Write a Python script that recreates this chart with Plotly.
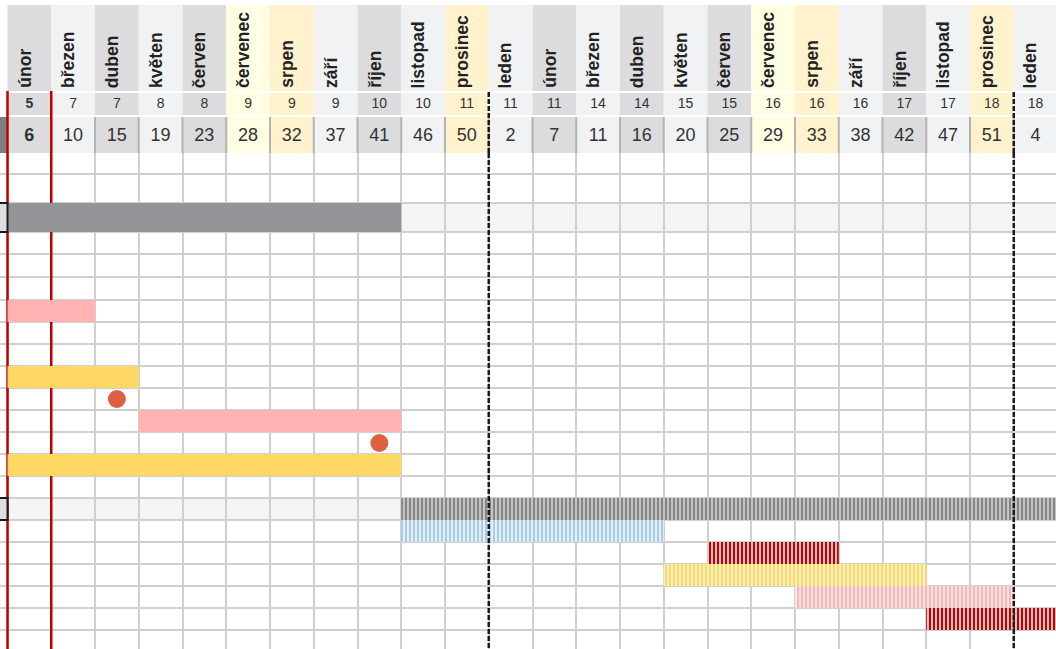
import plotly.graph_objects as go

# ---------------- data ----------------
MONTHS = ["únor", "březen", "duben", "květen", "červen", "červenec", "srpen", "září",
          "říjen", "listopad", "prosinec", "leden",
          "únor", "březen", "duben", "květen", "červen", "červenec", "srpen", "září",
          "říjen", "listopad", "prosinec", "leden"]
ROW2_VALUES = [5, 7, 7, 8, 8, 9, 9, 9, 10, 10, 11, 11, 11, 14, 14, 15, 15, 16, 16, 16, 17, 17, 18, 18]
WEEK_NUMBERS = [6, 10, 15, 19, 23, 28, 32, 37, 41, 46, 50, 2, 7, 11, 16, 20, 25, 29, 33, 38, 42, 47, 51, 4]
CURRENT_MONTH = 0

TASK_ROWS = [2, 6, 9, 11, 13, 15, 16, 17, 18, 19, 20]
TASK_START = [0, 0, 0, 3, 0, 9, 9, 16, 15, 18, 21]
TASK_END = [9, 2, 3, 9, 9, 25, 15, 19, 21, 23, 25]
TASK_KIND = ["summary", "pink", "yellow", "pink", "yellow", "summary", "blue", "red", "yellow", "pink", "red"]
TASK_PLANNED = [False, False, False, False, False, True, True, True, True, True, True]
SUMMARY_ROWS = [2, 15]

MILESTONE_ROWS = [10, 12]
MILESTONE_MONTHS = [2.5, 8.5]

# ---------------- styles / layout ----------------
W, H = 1056, 649
MONTH_PX = 43.75
ORIGIN_PX = 7.5
XR = [-ORIGIN_PX / MONTH_PX, (W - ORIGIN_PX) / MONTH_PX]
HEADER_BOTTOM = 153
BODY_TOP = 153
ROW_HEIGHTS = [21, 29, 29, 22, 23, 23] + [22] * 16
FONT = "Liberation Sans, Arial, sans-serif"

COL_FILL = {"únor": "#dcdcdf", "duben": "#dcdcdf", "červen": "#dcdcdf", "říjen": "#dcdcdf",
            "červenec": "#fffde2", "srpen": "#fff2cd", "prosinec": "#fff2cd"}
COL_DEFAULT = "#f1f2f4"
SOLID = {"summary": "#939598", "pink": "#ffb3b3", "yellow": "#fdd865",
         "blue": "#9fc5e8", "red": "#c00000"}
HATCH = {"summary": ("#858585", "#c4c4c4"), "pink": ("#ffb3b3", "#ffe6e6"),
         "yellow": ("#fdd865", "#fff3c6"), "blue": ("#a9cbec", "#e6f0fa"),
         "red": ("#c00000", "#f3c2c2")}
GRID = "#d0d0d0"

# row geometry
bounds = [BODY_TOP]
for h in ROW_HEIGHTS:
    bounds.append(bounds[-1] + h)
row_center = [(bounds[i] + bounds[i + 1]) / 2 for i in range(len(ROW_HEIGHTS))]

fig = go.Figure()

# ---------------- header ----------------
HDR_ROWS = [(5, 91), (93, 115), (117, 153)]
fills = [COL_FILL.get(m, COL_DEFAULT) for m in MONTHS]
n = len(MONTHS)
for (t, b) in HDR_ROWS:
    fig.add_trace(go.Bar(
        orientation="h", y=[(t + b) / 2] * n, base=list(range(n)), x=[1] * n,
        width=[b - t] * n, marker=dict(color=fills, line=dict(width=0)),
        xaxis="x2", yaxis="y2", hoverinfo="skip", showlegend=False))
# partial preceding column in 3rd header row
fig.add_trace(go.Bar(orientation="h", y=[135], base=[-1], x=[1], width=[36],
                     marker=dict(color="#7f7f7f", line=dict(width=0)),
                     xaxis="x2", yaxis="y2", hoverinfo="skip", showlegend=False))

fig.add_trace(go.Scatter(
    x=[i + 0.5 for i in range(n)], y=[104.5] * n, mode="text",
    text=[f"<b>{v}</b>" if i == CURRENT_MONTH else str(v) for i, v in enumerate(ROW2_VALUES)],
    textfont=dict(family=FONT, size=14, color="#333333"),
    xaxis="x2", yaxis="y2", hoverinfo="skip", showlegend=False))
fig.add_trace(go.Scatter(
    x=[i + 0.5 for i in range(n)], y=[136] * n, mode="text",
    text=[f"<b>{v}</b>" if i == CURRENT_MONTH else str(v) for i, v in enumerate(WEEK_NUMBERS)],
    textfont=dict(family=FONT, size=18, color="#333333"),
    xaxis="x2", yaxis="y2", hoverinfo="skip", showlegend=False))

annotations = []
for i, m in enumerate(MONTHS):
    annotations.append(dict(
        text=m, x=i + 0.38, y=90, xref="x2", yref="y2", textangle=-90,
        xanchor="center", yanchor="bottom", showarrow=False,
        font=dict(family=FONT, size=17.5, color="#222222", weight="bold")))

shapes = []
# separators in 3rd header row
for i in range(1, n):
    shapes.append(dict(type="line", xref="x2", yref="y2", x0=i, x1=i, y0=117, y1=153,
                       line=dict(color="#b3b3b3", width=2), layer="above"))

# ---------------- body ----------------
# summary row backgrounds + preceding-column cells
for r in SUMMARY_ROWS:
    shapes.append(dict(type="rect", xref="x", yref="y", x0=0, x1=XR[1] + 1,
                       y0=bounds[r], y1=bounds[r + 1], fillcolor="#f5f5f5",
                       line=dict(width=0), layer="below"))
    shapes.append(dict(type="rect", xref="x", yref="y", x0=-1, x1=0,
                       y0=bounds[r], y1=bounds[r + 1], fillcolor="#dedede",
                       line=dict(color="#1a1a1a", width=2), layer="above"))

for r, s, e, k, planned in zip(TASK_ROWS, TASK_START, TASK_END, TASK_KIND, TASK_PLANNED):
    if planned:
        fg, bg = HATCH[k]
        marker = dict(color=bg, line=dict(width=0),
                      pattern=dict(shape="|", fgcolor=fg, bgcolor=bg, size=4,
                                   solidity=0.5, fillmode="replace"))
    else:
        marker = dict(color=SOLID[k], line=dict(width=0))
    fig.add_trace(go.Bar(orientation="h", y=[row_center[r]], base=[s], x=[e - s],
                         width=[ROW_HEIGHTS[r]], marker=marker,
                         xaxis="x", yaxis="y", hoverinfo="skip", showlegend=False))

fig.add_trace(go.Scatter(
    x=MILESTONE_MONTHS, y=[row_center[r] for r in MILESTONE_ROWS], mode="markers",
    marker=dict(symbol="circle", size=18, color="#df6040", line=dict(width=0)),
    xaxis="x", yaxis="y", hoverinfo="skip", showlegend=False))

# current month markers (red) and year boundaries (dashed)
for xm in (CURRENT_MONTH, CURRENT_MONTH + 1):
    shapes.append(dict(type="line", xref="x2", yref="y2", x0=xm, x1=xm, y0=91, y1=153,
                       line=dict(color="#c00000", width=2.5), layer="above"))
    shapes.append(dict(type="line", xref="x", yref="y", x0=xm, x1=xm, y0=BODY_TOP, y1=H,
                       line=dict(color="#c00000", width=2.5), layer="between"))
year_bounds = [i for i, m in enumerate(MONTHS) if m == "leden"]
for xm in year_bounds:
    shapes.append(dict(type="line", xref="x2", yref="y2", x0=xm, x1=xm, y0=92, y1=153,
                       line=dict(color="#1a1a1a", width=2.5, dash="5px,2px"), layer="above"))
    shapes.append(dict(type="line", xref="x", yref="y", x0=xm, x1=xm, y0=BODY_TOP, y1=H,
                       line=dict(color="#1a1a1a", width=2.5, dash="5px,2px"), layer="above"))

split = 1 - HEADER_BOTTOM / H
fig.update_layout(
    width=W, height=H, margin=dict(l=0, r=0, t=0, b=0),
    paper_bgcolor="white", plot_bgcolor="white", showlegend=False, barmode="overlay",
    xaxis=dict(range=XR, domain=[0, 1], showgrid=True, gridcolor=GRID, gridwidth=2,
               tick0=0, dtick=1, showticklabels=False, zeroline=False, ticks="",
               fixedrange=True),
    yaxis=dict(range=[H, BODY_TOP], domain=[0, split], showgrid=True, gridcolor=GRID,
               gridwidth=2, tickmode="array", tickvals=bounds[1:], showticklabels=False,
               zeroline=False, ticks="", fixedrange=True),
    xaxis2=dict(range=XR, domain=[0, 1], anchor="y2", showgrid=False, showticklabels=False,
                zeroline=False, ticks="", fixedrange=True),
    yaxis2=dict(range=[HEADER_BOTTOM, 0], domain=[split, 1], anchor="x2", showgrid=False,
                showticklabels=False, zeroline=False, ticks="", fixedrange=True),
    shapes=shapes, annotations=annotations,
)

fig.write_html("out.html", config={"displayModeBar": False},
               post_script="document.body.style.margin='0';document.body.style.overflow='hidden';")
